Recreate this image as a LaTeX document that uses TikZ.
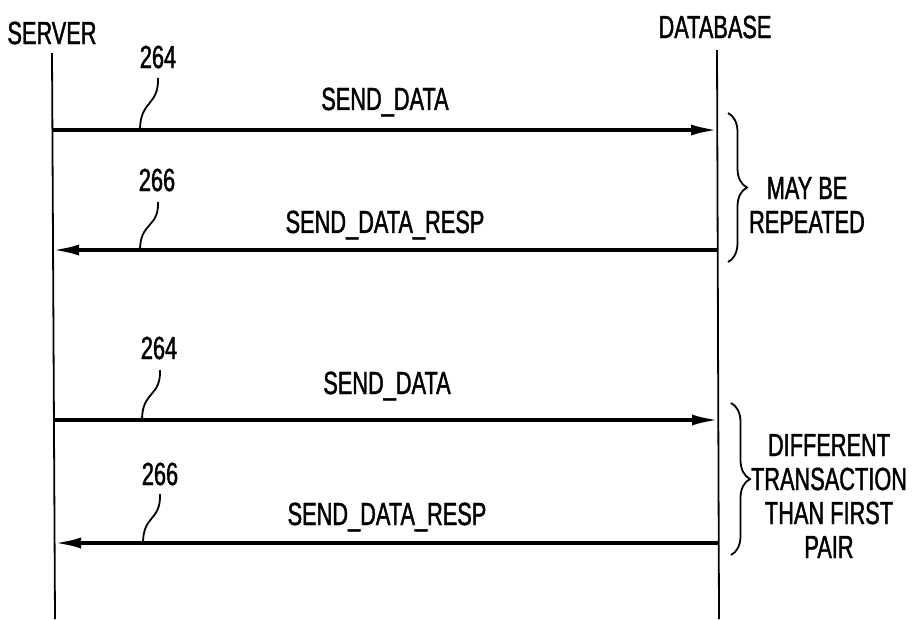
\documentclass[tikz,border=0pt]{standalone}
\usepackage{fontspec}
\newfontfamily\lblfont[FakeStretch=0.68,FakeBold=1.3]{Liberation Sans}
\usetikzlibrary{arrows.meta,decorations.pathreplacing}
\begin{document}
\begin{tikzpicture}[x=1pt,y=-1pt,
  lifeline/.style={line width=1.8pt},
  msg/.style={line width=3.6pt,-{Latex[length=27pt,width=11pt]}},
  txt/.style={font=\lblfont\fontsize{32}{34}\selectfont,inner sep=0pt,align=center},
  leader/.style={line width=1.8pt},
  brc/.style={line width=1.8pt,decorate,decoration={brace,amplitude=19pt}}]
\useasboundingbox (0,0) rectangle (912,619);
% headers
\node[txt] (server) at (52,33) {SERVER};
\node[txt] (database) at (715,27) {DATABASE};
% lifelines
\coordinate (s0) at (52,53);
\coordinate (s1) at (55,619);
\coordinate (d0) at (717,50);
\coordinate (d1) at (719,619);
\draw[lifeline] (s0) -- (s1);
\draw[lifeline] (d0) -- (d1);
% message end points
\coordinate (m1s) at (52,130);  \coordinate (m1d) at (718,130);
\coordinate (m2s) at (52,250);  \coordinate (m2d) at (717,250);
\coordinate (m3s) at (53,420);  \coordinate (m3d) at (719,420);
\coordinate (m4s) at (54,543);  \coordinate (m4d) at (719,543);
\draw[msg] (m1s) -- (m1d);
\draw[msg] (m2d) -- (m2s);
\draw[msg] (m3s) -- (m3d);
\draw[msg] (m4d) -- (m4s);
% message labels
\node[txt] (l1) at (385,102) {SEND\_DATA};
\node[txt] (l2) at (385,225) {SEND\_DATA\_RESP};
\node[txt] (l3) at (387,386) {SEND\_DATA};
\node[txt] (l4) at (387,517) {SEND\_DATA\_RESP};
% reference numerals and leaders
\node[txt] (r1) at (158,57) {264};
\node[txt] (r2) at (157,180) {266};
\node[txt] (r3) at (159,348) {264};
\node[txt] (r4) at (160,474) {266};
\coordinate (q1a) at (158,78);  \coordinate (q1b) at (140,130);
\coordinate (q2a) at (158,202); \coordinate (q2b) at (140,250);
\coordinate (q3a) at (160,370); \coordinate (q3b) at (142,420);
\coordinate (q4a) at (160,494); \coordinate (q4b) at (143,543);
\draw[leader] (q1a) .. controls (159,106) and (140,100) .. (q1b);
\draw[leader] (q2a) .. controls (159,228) and (140,222) .. (q2b);
\draw[leader] (q3a) .. controls (161,397) and (142,391) .. (q3b);
\draw[leader] (q4a) .. controls (161,521) and (143,515) .. (q4b);
% braces
\coordinate (b1a) at (728,113); \coordinate (b1b) at (728,262);
\coordinate (b2a) at (731,403); \coordinate (b2b) at (731,555);
\draw[brc] (b1a) -- (b1b);
\draw[brc] (b2a) -- (b2b);
\node[txt] (n1) at (807,205) {MAY BE\\REPEATED};
\node[txt] (n2) at (829,496) {DIFFERENT\\TRANSACTION\\THAN FIRST\\PAIR};
\end{tikzpicture}
\end{document}
